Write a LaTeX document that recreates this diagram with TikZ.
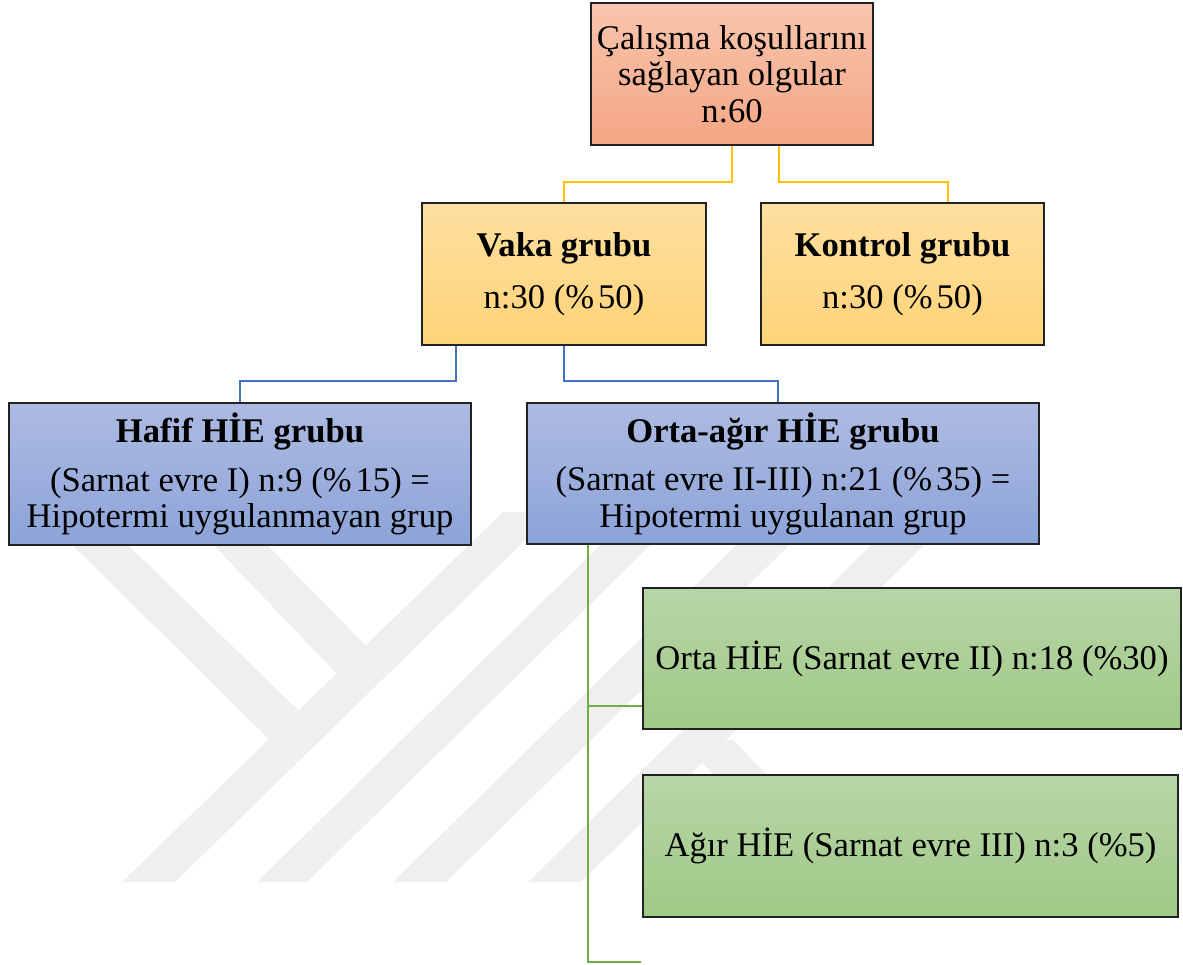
\documentclass[tikz,border=0pt]{standalone}
\usepackage{fontspec}
\setmainfont{Liberation Serif}
\definecolor{boxline}{HTML}{222222}
\definecolor{salT}{HTML}{F8C5AE}
\definecolor{salB}{HTML}{F4A684}
\definecolor{yelT}{HTML}{FEDFA0}
\definecolor{yelB}{HTML}{FFD478}
\definecolor{bluT}{HTML}{ADBBE2}
\definecolor{bluB}{HTML}{8CA3D8}
\definecolor{grnT}{HTML}{B7D6A8}
\definecolor{grnB}{HTML}{A0C985}
\definecolor{cYel}{HTML}{FFC000}
\definecolor{cBlu}{HTML}{4472C4}
\definecolor{cGrn}{HTML}{70AD47}
\definecolor{wm}{HTML}{EFEFEF}
\tikzset{
  box/.style={draw=boxline, line width=2.5pt, align=center, inner sep=0pt,
    font=\fontsize{34.6}{36.5}\selectfont},
  salbox/.style={box, top color=salT, bottom color=salB},
  yelbox/.style={box, top color=yelT, bottom color=yelB},
  blubox/.style={box, top color=bluT, bottom color=bluB},
  grnbox/.style={box, top color=grnT, bottom color=grnB},
  yline/.style={draw=cYel, line width=2pt},
  bline/.style={draw=cBlu, line width=2pt},
  gline/.style={draw=cGrn, line width=2pt},
  wmark/.style={fill=wm, draw=none}
}
\begin{document}
\begin{tikzpicture}[x=1pt,y=-1pt]
\path[use as bounding box] (0,0) rectangle (1183,965);
% watermark
\fill[wmark] (503,512) -- (554,512) -- (175,882) -- (122,882) -- cycle;
\fill[wmark] (39,512) -- (94,512) -- (300,712) -- (271,741) -- cycle;
\fill[wmark] (182,512) -- (235,512) -- (370,650) -- (340,677) -- cycle;
\fill[wmark] (257,882) -- (307,882) -- (684,512) -- (634,512) -- cycle;
\fill[wmark] (393,882) -- (446,882) -- (823,512) -- (770,512) -- cycle;
\fill[wmark] (528,882) -- (581,882) -- (958,512) -- (905,512) -- cycle;
\fill[wmark] (680,740) -- (733,740) -- (871,882) -- (818,882) -- cycle;
% nodes
\node[salbox, minimum width=282pt, minimum height=142pt] (top) at (732,74)
  {Çalışma koşullarını\\sağlayan olgular\\n:60};
\node[yelbox, minimum width=284pt, minimum height=142pt] (vaka) at (564,274)
  {\textbf{Vaka grubu}\\[16pt]n:30 (\%\kern4pt 50)};
\node[yelbox, minimum width=283pt, minimum height=142pt] (kontrol) at (902.5,274)
  {\textbf{Kontrol grubu}\\[16pt]n:30 (\%\kern4pt 50)};
\node[blubox, minimum width=462pt, minimum height=142pt] (hafif) at (240,474)
  {\textbf{Hafif HİE grubu}\\[12pt](Sarnat evre I) n:9 (\%\kern4pt 15) =\\Hipotermi uygulanmayan grup};
\node[blubox, minimum width=512pt, minimum height=141pt] (oa) at (783,473.5)
  {\textbf{Orta-ağır HİE grubu}\\[12pt](Sarnat evre II-III) n:21 (\%\kern4pt 35) =\\Hipotermi uygulanan grup};
\node[grnbox, minimum width=538pt, minimum height=141pt] (orta) at (912,658.5)
  {Orta HİE (Sarnat evre II) n:18 (\%30)};
\node[grnbox, minimum width=535pt, minimum height=142pt] (agir) at (910.5,846)
  {Ağır HİE (Sarnat evre III) n:3 (\%5)};
\coordinate (endc) at (641,962);
% yellow connectors
\draw[yline] (top.south) -- (top.south |- 0,182) -| (vaka.north);
\draw[yline] ([xshift=47pt]top.south) -- ([xshift=47pt]top.south |- 0,182) -| ([xshift=45pt]kontrol.north);
% blue connectors
\draw[bline] ([xshift=-108pt]vaka.south) -- ([xshift=-108pt]vaka.south |- 0,381) -| (hafif.north);
\draw[bline] (vaka.south) -- (vaka.south |- 0,381) -| ([xshift=-5pt]oa.north);
% green connectors
\draw[gline] ([xshift=-195pt]oa.south) |- ([yshift=-47.5pt]orta.west);
\draw[gline] ([xshift=-195pt]oa.south) |- (endc);
\end{tikzpicture}
\end{document}
